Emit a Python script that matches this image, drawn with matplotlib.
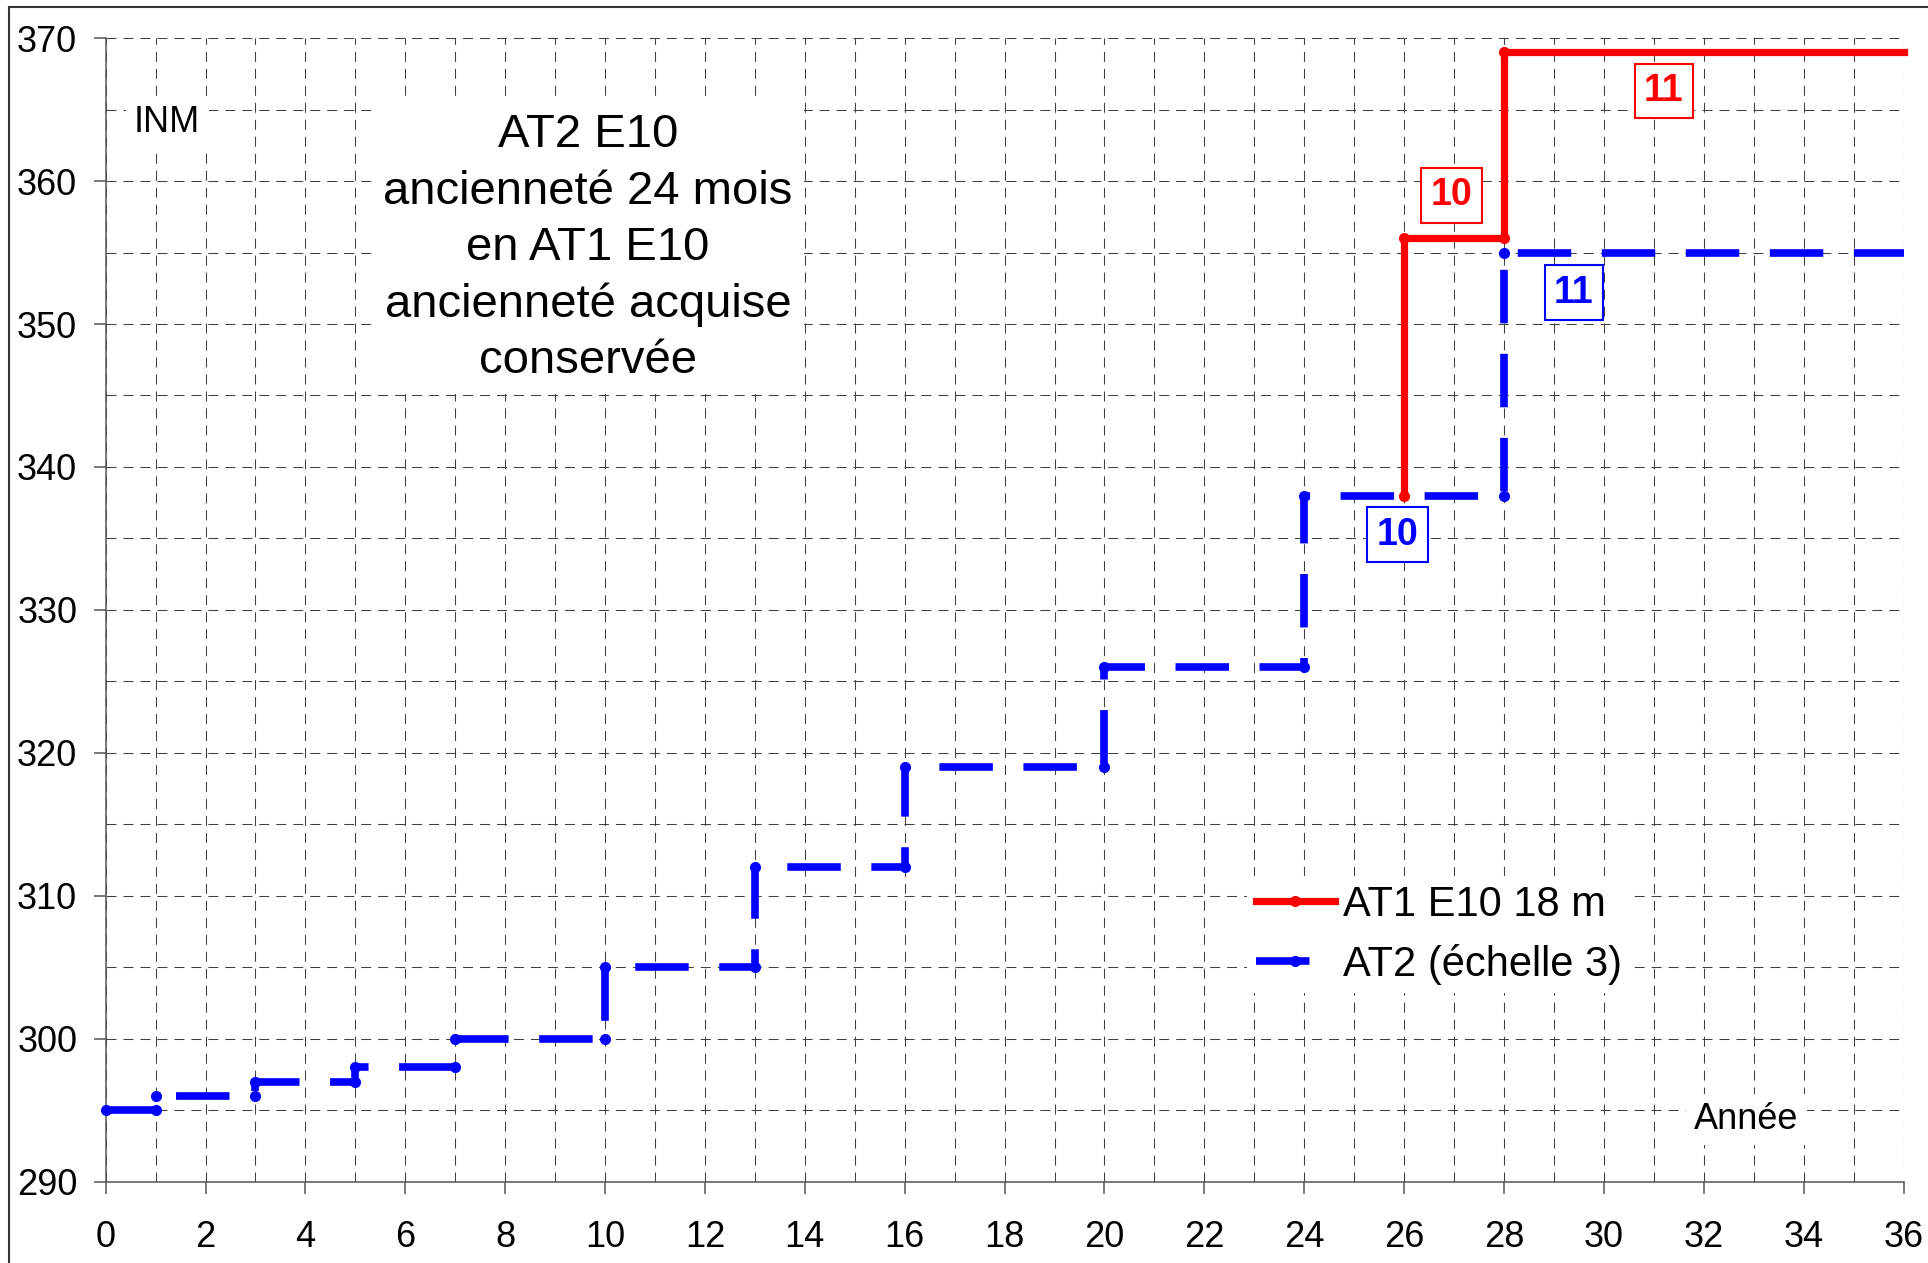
import matplotlib
matplotlib.use("Agg")
import matplotlib.pyplot as plt
from matplotlib.patches import Rectangle

plt.rcParams['font.family'] = ['Liberation Sans', 'DejaVu Sans']

# données
annees_at2 = [0, 1, 1, 3, 3, 5, 5, 7, 7, 10, 10, 13, 13, 16, 16, 20, 20, 24, 24, 28, 28, 36]
inm_at2 = [295, 295, 296, 296, 297, 297, 298, 298, 300, 300, 305, 305, 312, 312,
           319, 319, 326, 326, 338, 338, 355, 355]
annees_at1 = [26, 26, 28, 28, 36]
inm_at1 = [338, 356, 356, 369, 369]

# échelons affichés : (texte, x, y, couleur)
echelons = [("11", 31.2, 366.3, 'red'),
            ("10", 26.95, 359.0, 'red'),
            ("11", 29.4, 352.2, 'blue'),
            ("10", 25.87, 335.25, 'blue')]

texte_titre = "AT2 E10\nancienneté 24 mois\nen AT1 E10\nancienneté acquise\nconservée"

fig = plt.figure(figsize=(19.28, 12.63), dpi=100)
ax = fig.add_axes([0.0548, 0.0644, 0.9325, 0.9054])

# courbes (pas de marqueur sur le dernier point)
l2, = ax.plot(annees_at2, inm_at2, color='blue', lw=5.5, linestyle=(0, (7.0, 4.0)),
              marker='o', markersize=7, markevery=slice(0, -1), clip_on=False, zorder=3,
              label='AT2 (échelle 3)')
l1, = ax.plot(annees_at1, inm_at1, color='red', lw=5.2, marker='o', markersize=7,
              markevery=slice(0, -1), clip_on=False, zorder=4, label='AT1 E10 18 m')

ax.set_xlim(0, 36)
ax.set_ylim(290, 370)
ax.set_xticks(range(0, 37, 2))
ax.set_xticks(range(0, 37, 1), minor=True)
ax.set_yticks(range(290, 371, 10))
ax.set_yticks(range(290, 371, 5), minor=True)

ax.grid(which='both', color='#404040', lw=0.75, linestyle=(0, (9.6, 6.7)))
ax.set_axisbelow(True)

for s in ['top', 'right']:
    ax.spines[s].set_visible(False)
for s in ['left', 'bottom']:
    ax.spines[s].set_color('#555555')
    ax.spines[s].set_linewidth(1.1)

ax.tick_params(axis='both', which='major', labelsize=26, length=8.5, width=1.1, color='#555555')
ax.tick_params(axis='x', which='major', pad=19)
ax.tick_params(axis='y', which='major', pad=12)
ax.tick_params(which='minor', length=0)

# textes
ax.text(1.23, 364.1, "INM", fontsize=26, ha='center', va='center',
        bbox=dict(facecolor='white', edgecolor='none', pad=6), zorder=2)
ax.text(9.66, 355.3, texte_titre, fontsize=34, ha='center', va='center', linespacing=1.36,
        bbox=dict(facecolor='white', edgecolor='none', pad=8), zorder=2)
ax.text(32.85, 294.35, "Année", fontsize=26, ha='center', va='center',
        bbox=dict(facecolor='white', edgecolor='none', pad=6), zorder=2)

for txt, x, y, c in echelons:
    ax.text(x, y, txt, fontsize=27, fontweight='bold', color=c, ha='center', va='center',
            bbox=dict(boxstyle='square,pad=0.25', facecolor='white', edgecolor=c, lw=1.5),
            zorder=5)

leg = ax.legend(handles=[l1, l2], loc='center left', bbox_to_anchor=(0.635, 0.216),
                fontsize=30, frameon=True, facecolor='white', edgecolor='none', framealpha=1,
                handlelength=1.9, handletextpad=0.2, labelspacing=0.45, borderpad=0.2,
                borderaxespad=0, fancybox=False)
leg.set_zorder(6)

# cadre du graphique
fig.patches.append(Rectangle((9 / 1928, -0.02), 1.0, 1 - 7 / 1263 + 0.02, transform=fig.transFigure,
                             fill=False, edgecolor='#333333', lw=1.5))

fig.savefig('out.png', dpi=100)
